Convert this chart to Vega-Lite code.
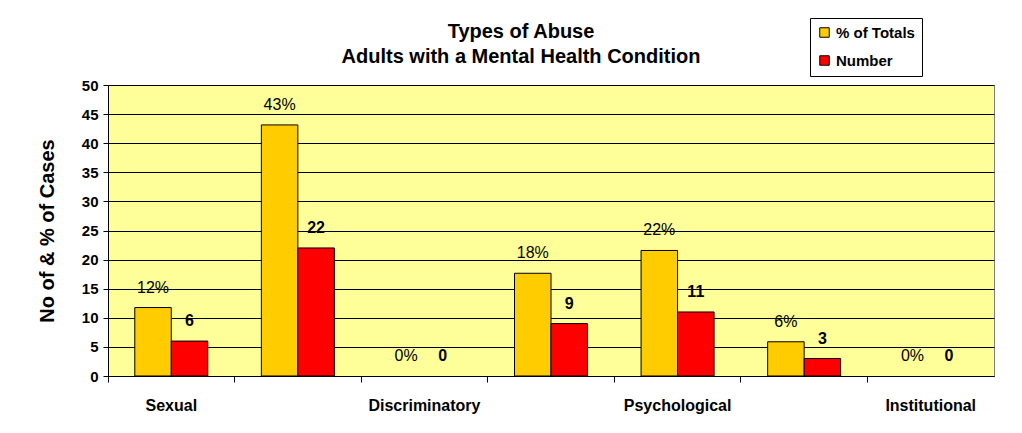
{
  "$schema": "https://vega.github.io/schema/vega-lite/v6.json",
  "width": 886,
  "height": 291,
  "autosize": {"type": "none"},
  "padding": {"left": 108, "top": 85, "right": 28, "bottom": 57},
  "background": "white",
  "title": {
    "text": ["Types of Abuse", "Adults with a Mental Health Condition"],
    "font": "Liberation Sans",
    "fontSize": 20,
    "fontWeight": "bold",
    "lineHeight": 25,
    "anchor": "middle",
    "frame": "group",
    "dx": -30,
    "offset": -49,
    "color": "black"
  },
  "data": {
    "values": [
      {"type": "Sexual", "series": "% of Totals", "value": 11.76, "label": "12%"},
      {"type": "Sexual", "series": "Number", "value": 6, "label": "6"},
      {"type": "Physical", "series": "% of Totals", "value": 43.14, "label": "43%"},
      {"type": "Physical", "series": "Number", "value": 22, "label": "22"},
      {"type": "Discriminatory", "series": "% of Totals", "value": 0, "label": "0%"},
      {"type": "Discriminatory", "series": "Number", "value": 0, "label": "0"},
      {"type": "Financial", "series": "% of Totals", "value": 17.65, "label": "18%"},
      {"type": "Financial", "series": "Number", "value": 9, "label": "9"},
      {"type": "Psychological", "series": "% of Totals", "value": 21.57, "label": "22%"},
      {"type": "Psychological", "series": "Number", "value": 11, "label": "11"},
      {"type": "Neglect", "series": "% of Totals", "value": 5.88, "label": "6%"},
      {"type": "Neglect", "series": "Number", "value": 3, "label": "3"},
      {"type": "Institutional", "series": "% of Totals", "value": 0, "label": "0%"},
      {"type": "Institutional", "series": "Number", "value": 0, "label": "0"}
    ]
  },
  "encoding": {
    "x": {
      "field": "type",
      "type": "nominal",
      "sort": null,
      "scale": {
        "domain": ["Sexual", "Physical", "Discriminatory", "Financial", "Psychological", "Neglect", "Institutional"],
        "paddingInner": 0,
        "paddingOuter": 0
      },
      "axis": {
        "title": null,
        "labelAngle": 0,
        "bandPosition": 0,
        "labelFont": "Liberation Sans",
        "labelFontSize": 16,
        "labelFontWeight": "bold",
        "labelColor": "black",
        "labelPadding": 15,
        "tickSize": 6,
        "tickColor": "black",
        "domainColor": "black",
        "labelExpr": "indexof(['Sexual','Discriminatory','Psychological','Institutional'], datum.value) >= 0 ? datum.value : ''"
      }
    },
    "xOffset": {
      "field": "series",
      "type": "nominal",
      "sort": null,
      "scale": {"domain": ["% of Totals", "Number"], "paddingInner": 0, "paddingOuter": 0.734}
    },
    "y": {
      "field": "value",
      "type": "quantitative",
      "scale": {"domain": [0, 50], "nice": false},
      "axis": {
        "title": "No of & % of Cases",
        "titleFont": "Liberation Sans",
        "titleFontSize": 20,
        "titleFontWeight": "bold",
        "titleColor": "black",
        "titlePadding": 24,
        "values": [0, 5, 10, 15, 20, 25, 30, 35, 40, 45, 50],
        "labelFont": "Liberation Sans",
        "labelFontSize": 15,
        "labelFontWeight": "bold",
        "labelColor": "black",
        "labelPadding": 5,
        "tickSize": 5,
        "tickColor": "black",
        "domainColor": "black",
        "grid": true,
        "gridColor": "black",
        "gridOpacity": 1
      }
    }
  },
  "layer": [
    {
      "transform": [{"filter": "datum.value > 0"}],
      "mark": {"type": "bar", "stroke": "black", "strokeWidth": 1},
      "encoding": {
        "color": {
          "field": "series",
          "type": "nominal",
          "sort": null,
          "scale": {"domain": ["% of Totals", "Number"], "range": ["#FFCC00", "#FF0000"]},
          "legend": {
            "title": null,
            "orient": "none",
            "legendX": 702,
            "legendY": -67,
            "direction": "vertical",
            "fillColor": "white",
            "strokeColor": "black",
            "padding": 7,
            "rowPadding": 12,
            "symbolType": "square",
            "symbolSize": 90,
            "symbolStrokeColor": "black",
            "symbolStrokeWidth": 1,
            "labelFont": "Liberation Sans",
            "labelFontSize": 15,
            "labelFontWeight": "bold",
            "labelColor": "black",
            "labelOffset": 4
          }
        }
      }
    },
    {
      "transform": [{"filter": "datum.series == '% of Totals'"}],
      "mark": {"type": "text", "baseline": "bottom", "dy": -12, "font": "Liberation Sans", "fontSize": 16, "color": "black"},
      "encoding": {"text": {"field": "label"}}
    },
    {
      "transform": [{"filter": "datum.series == 'Number'"}],
      "mark": {"type": "text", "baseline": "bottom", "dy": -12, "font": "Liberation Sans", "fontSize": 16, "fontWeight": "bold", "color": "black"},
      "encoding": {"text": {"field": "label"}}
    }
  ],
  "config": {
    "view": {"fill": "#FFFF99", "stroke": "#808080", "strokeWidth": 1}
  }
}
